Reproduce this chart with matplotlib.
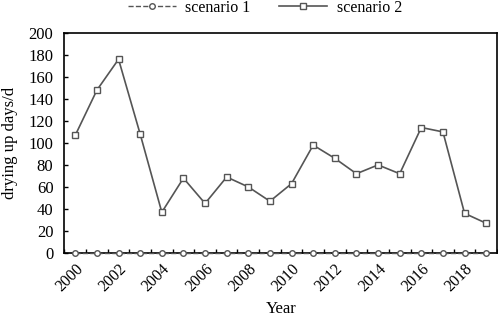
import matplotlib.pyplot as plt
import numpy as np

plt.rcParams['font.family'] = ['Liberation Serif', 'DejaVu Serif']

years = list(range(2000, 2020))
scenario1 = [0] * 20
scenario2 = [107, 148, 176, 108, 37, 68, 45, 69, 60, 47,
             63, 98, 86, 72, 80, 72, 114, 110, 36, 27]

fig = plt.figure(figsize=(4.98, 3.19), dpi=100)
ax = fig.add_axes([0.1295, 0.207, 0.8685, 0.69])

x = np.arange(len(years))
line_col = '#555555'
ax.plot(x, scenario1, linestyle='--', color=line_col, linewidth=1,
        marker='o', markersize=4, markerfacecolor='white',
        markeredgecolor=line_col, clip_on=False, label='scenario 1', zorder=3)
ax.plot(x, scenario2, linestyle='-', color=line_col, linewidth=1.2,
        marker='s', markersize=5, markerfacecolor='white',
        markeredgecolor=line_col, clip_on=False, label='scenario 2', zorder=3)

ax.set_xlim(-0.5, len(years) - 0.5)
ax.set_ylim(0, 200)
ax.set_yticks(range(0, 201, 20))
ax.set_xticks(x[::2])
ax.set_xticklabels([str(y) for y in years[::2]], rotation=45, ha='right',
                   rotation_mode='anchor')
ax.set_xticks(np.arange(-0.5, len(years), 1), minor=True)
ax.tick_params(axis='x', which='major', length=0, labelsize=11.5, pad=6)
ax.tick_params(axis='x', which='minor', direction='in', length=3, width=1)
ax.tick_params(axis='y', direction='in', length=3, width=1, labelsize=12,
               pad=8)

for s in ax.spines.values():
    s.set_linewidth(1.2)
    s.set_color('black')

ax.set_xlabel('Year', fontsize=12)
ax.set_ylabel('drying up days/d', fontsize=12)
ax.yaxis.set_label_coords(-0.108, 0.5)

fig.legend(loc='upper center', bbox_to_anchor=(0.532, 1.045), ncol=2,
           frameon=False, fontsize=11.5, handlelength=3, columnspacing=1.8,
           handletextpad=0.6)

fig.savefig('out.png', dpi=100)
